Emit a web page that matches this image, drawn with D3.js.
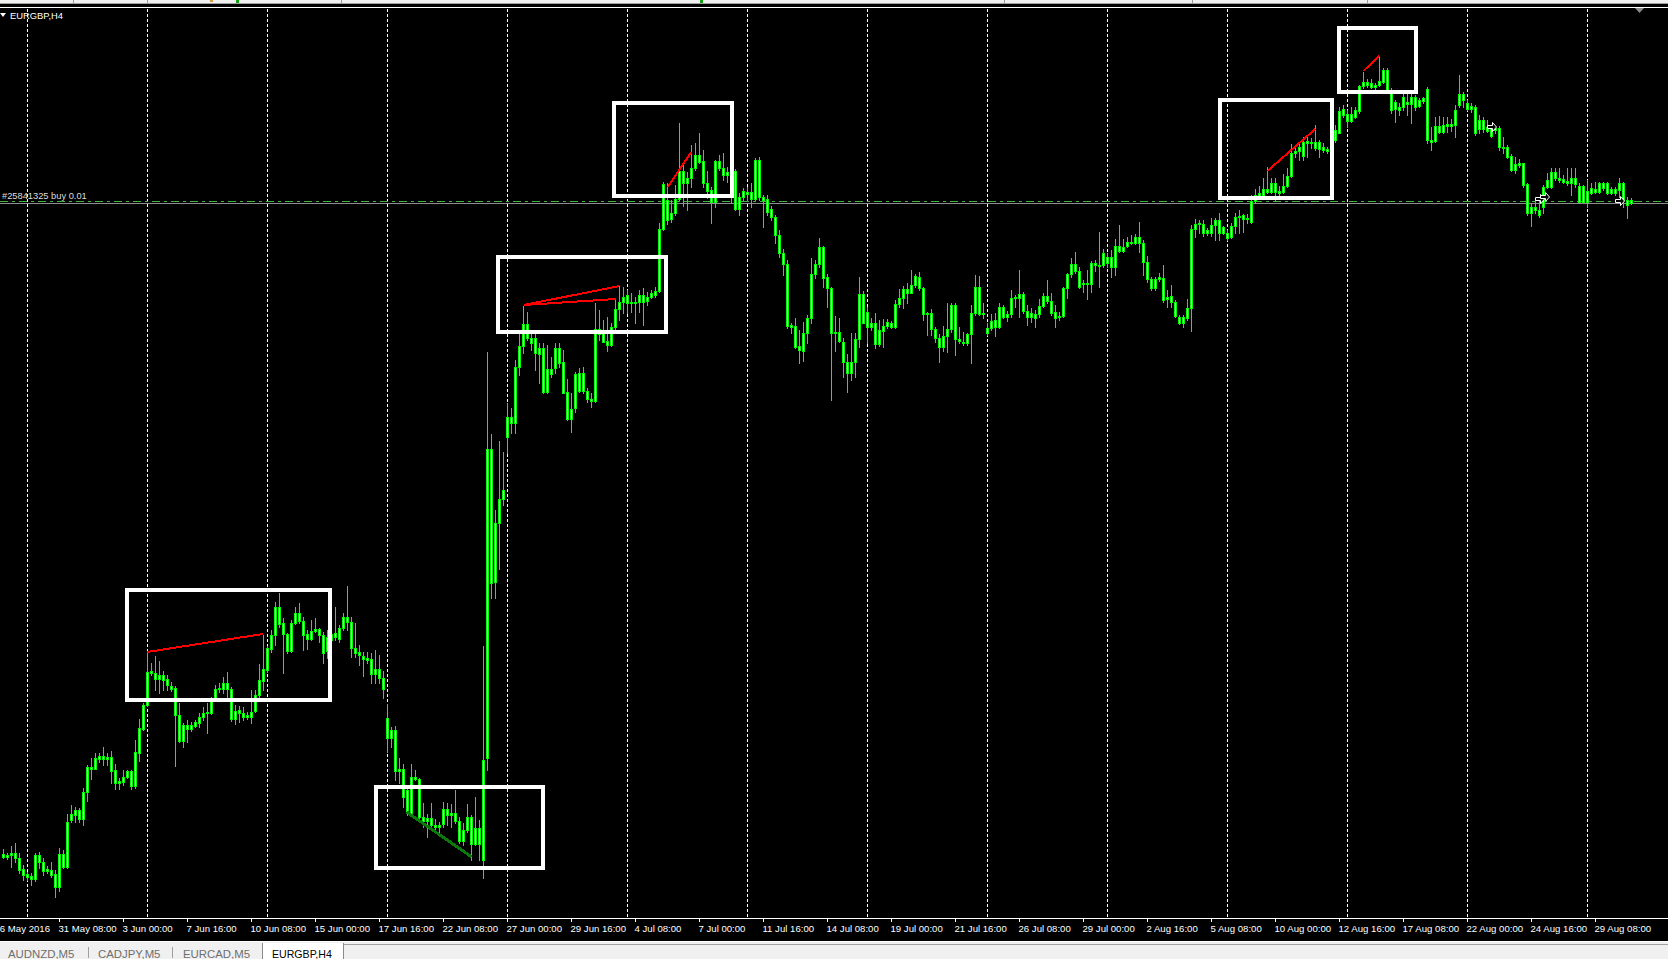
<!DOCTYPE html>
<html>
<head>
<meta charset="utf-8">
<script src="https://cdn.jsdelivr.net/npm/d3@7"></script>
<style>
  html, body { margin: 0; padding: 0; background: #000; overflow: hidden; }
  svg { display: block; font-family: "Liberation Sans", Arial, sans-serif; }
</style>
</head>
<body>
<svg id="chart" width="1668" height="959"></svg>
<script>
/* EURGBP,H4 candles as seen in the terminal. Prices are kept in pips (1 = 0.0001),
   one entry per H4 bar, oldest first. */
const OPEN = [
  8143,8145,8145,8147,8142,8131,8126,8124,8121,8145, 8138,8129,8130,8126,8113,8146,8133,8180,8185,8190,
  8181,8208,8233,8231,8241,8244,8241,8243,8230,8217, 8218,8223,8229,8214,8247,8271,8295,8327,8327,8321,
  8325,8321,8314,8312,8285,8259,8275,8271,8274,8277, 8283,8287,8287,8302,8311,8311,8317,8311,8281,8290,
  8287,8283,8283,8289,8305,8319,8330,8351,8365,8393, 8377,8366,8349,8377,8387,8379,8366,8361,8369,8371,
  8365,8349,8360,8367,8361,8372,8383,8378,8352,8348, 8344,8342,8341,8326,8331,8322,8282,8262,8270,8229,
  8231,8210,8187,8223,8221,8183,8179,8182,8175,8173, 8176,8191,8185,8187,8179,8159,8170,8183,8156,8172,
  8140,8242,8551,8418,8477,8501,8563,8583,8577,8633, 8654,8676,8662,8662,8646,8652,8608,8631,8632,8652,
  8638,8608,8581,8592,8627,8609,8609,8601,8599,8671, 8670,8659,8655,8673,8691,8698,8705,8697,8698,8698,
  8705,8699,8703,8705,8709,8771,8800,8781,8787,8801, 8829,8817,8822,8832,8845,8839,8817,8810,8798,8839,
  8832,8825,8828,8829,8791,8803,8808,8808,8801,8840, 8803,8801,8791,8783,8765,8747,8736,8675,8674,8654,
  8649,8667,8682,8726,8736,8753,8723,8712,8667,8668, 8658,8638,8627,8638,8661,8706,8688,8673,8677,8656,
  8669,8674,8677,8673,8696,8702,8711,8707,8715,8723, 8712,8686,8687,8671,8662,8653,8664,8671,8695,8661,
  8658,8657,8666,8687,8713,8686,8672,8672,8680,8673, 8693,8683,8686,8702,8702,8706,8689,8683,8686,8686,
  8694,8704,8699,8688,8683,8684,8712,8726,8736,8729, 8716,8717,8716,8737,8735,8735,8743,8743,8733,8754,
  8749,8754,8758,8757,8763,8757,8738,8721,8712,8721, 8722,8701,8704,8698,8683,8677,8682,8692,8771,8776,
  8776,8767,8767,8775,8780,8767,8767,8763,8774,8783, 8785,8781,8778,8799,8804,8805,8811,8808,8817,8807,
  8808,8814,8824,8847,8849,8844,8857,8858,8858,8851, 8853,8851,8860,8860,8867,8891,8886,8879,8883,8889,
  8914,8918,8917,8913,8915,8918,8930,8910,8891,8893, 8893,8898,8896,8903,8894,8899,8911,8860,8859,8874,
  8868,8874,8876,8875,8895,8906,8897,8891,8893,8871, 8880,8873,8872,8870,8872,8853,8853,8844,8830,8835,
  8837,8816,8787,8793,8790,8793,8813,8813,8828,8822, 8821,8819,8817,8822,8814,8798,8809,8807,8811,8808,
  8817,8817,8807,8811,8810,8817,8800,8797
];
const HIGH = [
  8151,8147,8154,8157,8147,8135,8128,8127,8147,8148, 8142,8134,8138,8130,8152,8150,8186,8195,8193,8192,
  8212,8235,8242,8247,8247,8253,8247,8249,8236,8222, 8230,8230,8230,8260,8281,8297,8347,8337,8344,8339,
  8329,8325,8318,8314,8297,8277,8280,8278,8280,8287, 8293,8297,8303,8315,8317,8323,8328,8313,8295,8294,
  8293,8288,8310,8310,8336,8365,8354,8370,8398,8407, 8382,8367,8380,8393,8397,8383,8370,8380,8382,8372,
  8368,8370,8370,8393,8375,8387,8414,8383,8377,8355, 8348,8348,8347,8350,8345,8329,8296,8273,8274,8242,
  8236,8214,8236,8230,8222,8197,8186,8197,8181,8178, 8198,8197,8196,8210,8183,8177,8196,8185,8203,8180,
  8354,8648,8566,8490,8559,8548,8597,8592,8640,8667, 8694,8688,8667,8667,8657,8657,8655,8643,8657,8657,
  8650,8621,8607,8628,8632,8633,8612,8607,8697,8690, 8680,8683,8677,8702,8714,8713,8710,8707,8703,8710,
  8712,8708,8710,8713,8777,8818,8817,8800,8815,8877, 8837,8828,8855,8857,8867,8850,8829,8813,8840,8845,
  8847,8833,8829,8831,8807,8812,8813,8817,8842,8843, 8805,8805,8794,8785,8770,8751,8740,8677,8682,8670,
  8678,8685,8742,8740,8762,8754,8726,8713,8684,8682, 8662,8646,8667,8667,8723,8709,8693,8682,8687,8680,
  8681,8681,8679,8700,8711,8714,8717,8730,8726,8728, 8713,8688,8691,8673,8666,8674,8697,8697,8697,8673,
  8668,8667,8695,8725,8724,8697,8677,8686,8687,8697, 8695,8689,8710,8705,8730,8708,8695,8692,8690,8701,
  8707,8720,8707,8695,8688,8713,8727,8742,8748,8733, 8720,8730,8739,8740,8768,8751,8747,8750,8761,8775,
  8761,8763,8765,8766,8778,8760,8744,8723,8723,8727, 8735,8710,8715,8700,8685,8685,8701,8775,8781,8780,
  8780,8772,8782,8782,8787,8774,8770,8777,8787,8790, 8786,8786,8805,8811,8814,8822,8833,8822,8822,8814,
  8826,8832,8856,8852,8856,8863,8864,8862,8875,8860, 8857,8853,8868,8875,8893,8895,8890,8893,8893,8915,
  8928,8921,8921,8917,8944,8932,8932,8912,8900,8897, 8907,8910,8907,8905,8902,8903,8913,8873,8883,8884,
  8883,8883,8881,8895,8925,8908,8900,8897,8895,8885, 8883,8880,8875,8874,8874,8863,8855,8846,8843,8841,
  8837,8817,8797,8800,8800,8815,8827,8832,8832,8832, 8825,8832,8832,8832,8817,8815,8820,8817,8818,8818,
  8818,8818,8813,8813,8822,8818,8803,8802
];
const LOW = [
  8142,8141,8133,8138,8127,8120,8120,8115,8119,8132, 8125,8127,8123,8103,8109,8132,8132,8178,8178,8178,
  8175,8199,8221,8231,8238,8235,8235,8217,8211,8211, 8215,8222,8211,8212,8239,8270,8294,8325,8310,8307,
  8310,8310,8309,8234,8258,8253,8258,8269,8273,8273, 8280,8267,8286,8300,8308,8307,8303,8279,8276,8278,
  8280,8281,8277,8288,8303,8310,8328,8348,8355,8373, 8327,8347,8348,8376,8377,8350,8351,8360,8368,8358,
  8337,8342,8355,8360,8358,8370,8370,8343,8343,8335, 8324,8337,8317,8317,8317,8302,8248,8253,8220,8217,
  8193,8185,8185,8220,8182,8173,8163,8170,8168,8167, 8173,8175,8173,8177,8157,8155,8168,8140,8155,8140,
  8122,8230,8402,8402,8431,8495,8547,8567,8567,8625, 8647,8660,8650,8630,8617,8607,8607,8623,8627,8633,
  8607,8580,8568,8588,8608,8607,8598,8593,8598,8660, 8658,8649,8654,8670,8680,8687,8687,8688,8677,8688,
  8675,8695,8702,8703,8708,8770,8776,8778,8785,8800, 8794,8790,8813,8830,8837,8813,8802,8777,8793,8830,
  8820,8818,8797,8790,8785,8800,8800,8793,8800,8800, 8773,8785,8780,8757,8743,8725,8672,8667,8652,8637,
  8639,8657,8677,8722,8733,8713,8693,8600,8649,8658, 8623,8608,8620,8623,8653,8677,8657,8670,8652,8654,
  8653,8672,8672,8672,8693,8692,8697,8707,8713,8710, 8680,8665,8665,8658,8638,8649,8648,8668,8645,8657,
  8655,8655,8637,8685,8685,8682,8665,8670,8664,8672, 8682,8679,8683,8693,8683,8687,8675,8678,8673,8683,
  8693,8697,8685,8673,8680,8683,8702,8723,8727,8712, 8708,8701,8708,8729,8713,8733,8733,8723,8725,8748,
  8748,8753,8756,8756,8748,8725,8718,8710,8710,8719, 8698,8693,8693,8683,8676,8673,8680,8669,8763,8767,
  8764,8765,8764,8760,8760,8766,8760,8762,8767,8767, 8768,8777,8777,8797,8803,8803,8807,8807,8799,8802,
  8807,8813,8823,8843,8840,8840,8843,8852,8850,8843, 8848,8847,8855,8858,8867,8883,8873,8878,8882,8887,
  8912,8913,8912,8911,8914,8917,8910,8887,8878,8885, 8890,8885,8877,8890,8893,8897,8857,8850,8858,8867,
  8867,8868,8869,8863,8893,8893,8890,8888,8865,8867, 8868,8868,8863,8867,8850,8847,8842,8829,8827,8833,
  8813,8785,8774,8787,8783,8787,8812,8812,8820,8818, 8817,8815,8805,8813,8797,8797,8793,8806,8807,8807,
  8810,8806,8806,8805,8803,8793,8782,8796
];
const CLOSE = [
  8146,8143,8147,8142,8130,8125,8123,8121,8145,8138, 8129,8131,8125,8113,8146,8133,8178,8186,8190,8181,
  8208,8233,8231,8242,8244,8241,8243,8229,8217,8219, 8223,8229,8214,8248,8272,8295,8328,8329,8321,8325,
  8320,8315,8311,8285,8259,8275,8271,8275,8278,8283, 8287,8288,8300,8311,8312,8317,8311,8281,8289,8287,
  8283,8285,8288,8305,8320,8331,8352,8365,8393,8376, 8366,8349,8377,8387,8379,8365,8361,8369,8371,8365,
  8347,8363,8366,8363,8372,8383,8378,8352,8347,8345, 8341,8340,8326,8331,8322,8311,8262,8270,8229,8231,
  8203,8187,8223,8221,8183,8179,8182,8175,8173,8175, 8191,8185,8187,8179,8159,8170,8183,8156,8172,8156,
  8240,8551,8417,8477,8501,8510,8583,8577,8633,8654, 8676,8662,8657,8647,8652,8608,8631,8626,8652,8637,
  8607,8581,8591,8626,8609,8627,8601,8599,8671,8666, 8658,8655,8673,8691,8698,8703,8697,8698,8697,8705,
  8698,8703,8707,8709,8771,8816,8780,8787,8801,8829, 8817,8822,8832,8845,8838,8817,8809,8798,8839,8832,
  8825,8828,8815,8791,8803,8809,8806,8801,8840,8803, 8800,8788,8783,8765,8747,8736,8674,8673,8653,8650,
  8667,8682,8726,8736,8753,8722,8712,8667,8668,8659, 8638,8627,8638,8661,8706,8677,8673,8677,8656,8670,
  8674,8678,8673,8696,8702,8711,8707,8715,8724,8712, 8686,8687,8671,8662,8653,8664,8671,8695,8661,8659,
  8657,8666,8687,8713,8686,8687,8667,8679,8673,8693, 8683,8686,8702,8703,8706,8689,8683,8687,8682,8694,
  8704,8699,8687,8682,8684,8712,8726,8736,8729,8713, 8717,8716,8737,8735,8734,8747,8737,8733,8754,8749,
  8753,8758,8757,8763,8757,8738,8721,8712,8721,8723, 8700,8703,8698,8684,8677,8683,8692,8771,8776,8777,
  8767,8770,8775,8780,8767,8773,8762,8774,8783,8784, 8781,8782,8799,8805,8807,8811,8808,8817,8808,8809,
  8814,8824,8847,8849,8853,8858,8859,8857,8852,8858, 8850,8849,8865,8870,8889,8885,8879,8886,8890,8914,
  8918,8915,8913,8915,8919,8930,8910,8890,8898,8890, 8903,8896,8903,8893,8900,8902,8860,8858,8874,8868,
  8875,8876,8874,8890,8906,8900,8891,8894,8867,8880, 8871,8869,8864,8872,8853,8852,8843,8830,8836,8837,
  8815,8787,8793,8790,8785,8813,8820,8828,8822,8820, 8818,8817,8822,8816,8798,8814,8798,8812,8808,8817,
  8812,8807,8811,8807,8817,8800,8795,8800
];

// time scale labels: one every 16 bars, first one sits 2 bars left of the first candle
const TIME_LABELS = [
  "26 May 2016","31 May 08:00","3 Jun 00:00","7 Jun 16:00","10 Jun 08:00","15 Jun 00:00",
  "17 Jun 16:00","22 Jun 08:00","27 Jun 00:00","29 Jun 16:00","4 Jul 08:00","7 Jul 00:00",
  "11 Jul 16:00","14 Jul 08:00","19 Jul 00:00","21 Jul 16:00","26 Jul 08:00","29 Jul 00:00",
  "2 Aug 16:00","5 Aug 08:00","10 Aug 00:00","12 Aug 16:00","17 Aug 08:00","22 Aug 00:00",
  "24 Aug 16:00","29 Aug 08:00"
];
const LABEL_FIRST_BAR = -2, LABEL_STEP = 16;
const GRID_FIRST_BAR = 6, GRID_STEP = 30, GRID_COUNT = 14;

// drawn objects, in bar index / pips
const BOXES = [
  { from: 31,     to: 81.75,  top: 8410, bottom: 8300 },
  { from: 93.25,  to: 135,    top: 8213, bottom: 8132 },
  { from: 123.75, to: 165.75, top: 8743, bottom: 8668 },
  { from: 152.75, to: 182.25, top: 8897, bottom: 8804 },
  { from: 304.25, to: 332.25, top: 8900, bottom: 8802 },
  { from: 334,    to: 353.25, top: 8972, bottom: 8908 }
];
const TRENDLINES = [
  { from: 36,    p0: 8348, to: 65,    p1: 8366, color: '#ff0000', width: 2 },
  { from: 130.2, p0: 8695, to: 154.1, p1: 8714, color: '#ff0000', width: 2 },
  { from: 130.2, p0: 8695, to: 153.2, p1: 8701, color: '#ff0000', width: 2 },
  { from: 166.2, p0: 8813, to: 172.1, p1: 8848, color: '#ff0000', width: 2 },
  { from: 316.1, p0: 8829, to: 328.1, p1: 8871, color: '#ff0000', width: 2 },
  { from: 340.1, p0: 8929, to: 344.1, p1: 8944, color: '#ff0000', width: 2 },
  { from: 100.9, p0: 8188, to: 117.2, p1: 8143, color: '#0b7a0b', width: 3 }
];
const TRADE_ARROWS = [
  { bar: 372.25, price: 8873 },
  { bar: 384.25, price: 8801 },
  { bar: 385.5,  price: 8803 },
  { bar: 404.25, price: 8799 }
];
const ORDER_LEVEL = 8799, BID_LEVEL = 8797;
const ORDER_TEXT = "#25841325 buy 0.01";
const SYMBOL = "EURGBP,H4";
const TABS = ["AUDNZD,M5", "CADJPY,M5", "EURCAD,M5", "EURGBP,H4"];

(function(){
  const W = 1668, H = 959, TOP = 8, BOTTOM = 918;
  const GREEN = '#00ff00', BODY_FILL = '#d4ffd4';
  const svg = d3.select('#chart');

  const x = d3.scaleLinear().domain([0, 416]).range([3, 1667]);
  const y = d3.scaleLinear().domain([8082, 8992]).range([BOTTOM, TOP]);
  const px = v => Math.round(v);

  svg.append('rect').attr('width', W).attr('height', H).attr('fill', '#000');

  // terminal chrome above the chart
  svg.append('rect').attr('width', W).attr('height', 4).attr('fill', '#f0f0f0');
  svg.append('rect').attr('y', 3).attr('width', W).attr('height', 1).attr('fill', '#a0a0a0');
  [73, 147, 341, 1004, 1192, 1367].forEach(sx =>
    svg.append('rect').attr('x', sx).attr('y', 0).attr('width', 1).attr('height', 3).attr('fill', '#9a9a9a'));
  svg.append('rect').attr('x', 236).attr('y', 0).attr('width', 3).attr('height', 3).attr('fill', '#10a010');
  svg.append('rect').attr('x', 210).attr('y', 0).attr('width', 3).attr('height', 2).attr('fill', '#d0a040');
  svg.append('rect').attr('x', 700).attr('y', 0).attr('width', 3).attr('height', 3).attr('fill', '#10a010');
  svg.append('rect').attr('y', 7).attr('width', W).attr('height', 1).attr('fill', '#fff');

  const defs = svg.append('defs');
  defs.append('clipPath').attr('id', 'plot').append('rect')
    .attr('x', 0).attr('y', TOP + 1).attr('width', W).attr('height', BOTTOM - TOP - 1);
  const plot = svg.append('g').attr('clip-path', 'url(#plot)').attr('shape-rendering', 'crispEdges');

  // vertical grid
  const gridBars = d3.range(GRID_COUNT).map(k => GRID_FIRST_BAR + k * GRID_STEP);
  plot.selectAll('line.grid').data(gridBars).join('line')
    .attr('class', 'grid')
    .attr('x1', d => px(x(d)) + 0.5).attr('x2', d => px(x(d)) + 0.5)
    .attr('y1', TOP + 1).attr('y2', BOTTOM)
    .attr('stroke', '#fff').attr('stroke-dasharray', '3,2');

  // order + bid lines
  plot.append('line').attr('x1', 0).attr('x2', W)
    .attr('y1', px(y(BID_LEVEL)) + 0.5).attr('y2', px(y(BID_LEVEL)) + 0.5)
    .attr('stroke', '#8c8c8c');
  plot.append('line').attr('x1', 0).attr('x2', W)
    .attr('y1', px(y(ORDER_LEVEL)) + 0.5).attr('y2', px(y(ORDER_LEVEL)) + 0.5)
    .attr('stroke', '#3fb43f').attr('stroke-dasharray', '8,4,3,4');

  const bars = OPEN.map((o, i) => {
    const c = CLOSE[i];
    return { i, o, c, h: Math.max(HIGH[i], o, c), l: Math.min(LOW[i], o, c) };
  });

  plot.selectAll('rect.wick').data(bars).join('rect')
    .attr('class', 'wick')
    .attr('x', d => px(x(d.i)))
    .attr('y', d => px(y(d.h)))
    .attr('width', 1)
    .attr('height', d => px(y(d.l)) - px(y(d.h)) + 1)
    .attr('fill', GREEN);

  const bodyTop = d => px(y(Math.max(d.o, d.c)));
  const bodyH = d => px(y(Math.min(d.o, d.c))) - bodyTop(d) + 1;
  plot.selectAll('rect.body').data(bars).join('rect')
    .attr('class', 'body')
    .attr('x', d => px(x(d.i)) - 1)
    .attr('y', bodyTop)
    .attr('width', 3)
    .attr('height', bodyH)
    .attr('fill', GREEN);
  plot.selectAll('rect.inner').data(bars.filter(d => bodyH(d) >= 3)).join('rect')
    .attr('class', 'inner')
    .attr('x', d => px(x(d.i)))
    .attr('y', d => bodyTop(d) + 1)
    .attr('width', 1)
    .attr('height', d => bodyH(d) - 2)
    .attr('fill', BODY_FILL);

  // objects drawn by hand on the chart
  plot.selectAll('line.trend').data(TRENDLINES).join('line')
    .attr('class', 'trend')
    .attr('x1', d => x(d.from)).attr('y1', d => y(d.p0))
    .attr('x2', d => x(d.to)).attr('y2', d => y(d.p1))
    .attr('stroke', d => d.color).attr('stroke-width', d => d.width);

  plot.selectAll('rect.box').data(BOXES).join('rect')
    .attr('class', 'box')
    .attr('x', d => x(d.from)).attr('y', d => y(d.top))
    .attr('width', d => x(d.to) - x(d.from))
    .attr('height', d => y(d.bottom) - y(d.top))
    .attr('fill', 'none').attr('stroke', '#fff').attr('stroke-width', 4);

  plot.selectAll('path.arrow').data(TRADE_ARROWS).join('path')
    .attr('class', 'arrow')
    .attr('transform', d => 'translate(' + px(x(d.bar)) + ',' + px(y(d.price)) + ')')
    .attr('d', 'M-4.5,-1.5 H0.5 V-4.5 L4.5,0 L0.5,4.5 V1.5 H-4.5 Z')
    .attr('fill', '#000').attr('stroke', '#fff').attr('stroke-width', 1)
    .attr('shape-rendering', 'auto');

  // labels inside the chart
  svg.append('path').attr('d', 'M0,13 L6,13 L3,17 Z').attr('fill', '#fff');
  svg.append('text').attr('x', 10).attr('y', 19).attr('fill', '#fff')
    .style('font-size', '9.4px').text(SYMBOL);
  svg.append('text').attr('x', 2).attr('y', 199).attr('fill', '#dcdcdc')
    .style('font-size', '9.3px').text(ORDER_TEXT);
  svg.append('path').attr('d', 'M1635,8 L1644,8 L1639.5,13 Z').attr('fill', '#8a8a8a');

  // time axis
  svg.append('rect').attr('x', 0).attr('y', BOTTOM).attr('width', W).attr('height', 1).attr('fill', '#fff');
  const tickBars = TIME_LABELS.map((_, k) => LABEL_FIRST_BAR + k * LABEL_STEP);
  const axis = d3.axisBottom(x).tickValues(tickBars)
    .tickFormat((d, k) => TIME_LABELS[k]).tickSize(4).tickPadding(3);
  const gAxis = svg.append('g').attr('transform', 'translate(0,' + BOTTOM + ')').call(axis);
  gAxis.select('.domain').remove();
  gAxis.selectAll('.tick line').attr('stroke', '#fff').attr('shape-rendering', 'crispEdges');
  gAxis.selectAll('.tick text')
    .attr('fill', '#fff').attr('text-anchor', 'start').attr('x', -1)
    .style('font-size', '9.6px').style('font-family', '"Liberation Sans", Arial, sans-serif');

  // symbol tabs at the bottom
  svg.append('rect').attr('x', 0).attr('y', 941).attr('width', W).attr('height', 1).attr('fill', '#fff');
  svg.append('rect').attr('x', 0).attr('y', 942).attr('width', W).attr('height', H - 942).attr('fill', '#f0f0f0');
  svg.append('rect').attr('x', 343).attr('y', 944).attr('width', W - 343).attr('height', 1).attr('fill', '#a0a0a0');
  svg.append('rect').attr('x', 262).attr('y', 943).attr('width', 81).attr('height', H - 943).attr('fill', '#fff');
  svg.append('rect').attr('x', 262).attr('y', 943).attr('width', 1).attr('height', H - 943).attr('fill', '#8a8a8a');
  svg.append('rect').attr('x', 343).attr('y', 943).attr('width', 1).attr('height', H - 943).attr('fill', '#8a8a8a');
  [88, 172].forEach(sx =>
    svg.append('rect').attr('x', sx).attr('y', 947).attr('width', 1).attr('height', 11).attr('fill', '#a0a0a0'));
  const tabX = [8, 98, 183, 272];
  TABS.forEach((t, k) => {
    const active = k === TABS.length - 1;
    svg.append('text').attr('x', tabX[k]).attr('y', 958)
      .attr('fill', active ? '#000' : '#6e6e6e')
      .style('font-size', active ? '10.6px' : '11.4px')
      .text(t);
  });
})();
</script>
</body>
</html>
